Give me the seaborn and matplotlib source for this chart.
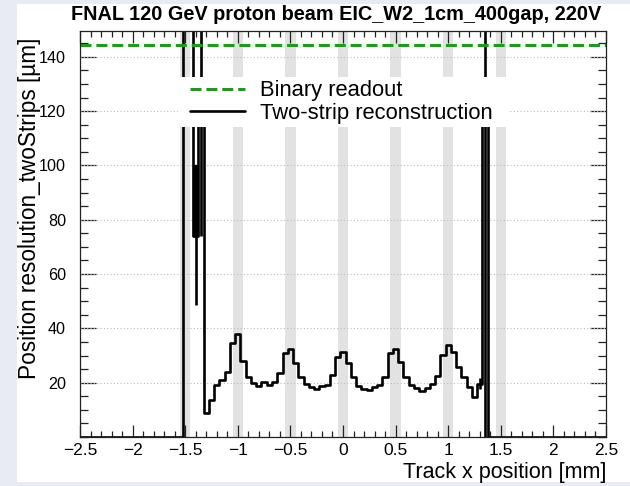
import numpy as np
import pandas as pd
import matplotlib
matplotlib.use("Agg")
import matplotlib.pyplot as plt
import seaborn as sns
from matplotlib.patches import Rectangle
from matplotlib.lines import Line2D
from matplotlib.ticker import MultipleLocator, FixedLocator

# ---------------- data ----------------
title = "FNAL 120 GeV proton beam EIC_W2_1cm_400gap, 220V"
xlabel = "Track x position [mm]"
ylabel = "Position resolution_twoStrips [\u00b5m]"
legend_labels = ["Binary readout", "Two-strip reconstruction"]

bin_width = 0.05
first_center = -1.50
# resolution per 0.05 mm bin, from x = -1.50 to 1.35 (values > 150 are off-scale)
resolution = [200, 200, 74, 120, 8.7, 13.6, 19.2, 21.0, 24.1, 34.7,
              37.9, 28.1, 22.2, 19.8, 18.8, 20.1, 19.2, 20.4, 23.5, 30.8,
              32.3, 27.4, 22.0, 19.5, 18.5, 17.7, 18.8, 19.2, 22.8, 29.3,
              31.4, 27.1, 22.0, 18.8, 17.7, 17.3, 18.3, 19.2, 22.0, 31.0,
              32.3, 27.5, 22.0, 19.2, 17.9, 17.1, 18.2, 19.5, 22.5, 30.2,
              33.9, 31.2, 25.7, 22.0, 18.5, 14.8, 19.5, 120]
# large error bars on a few bins
err_x = [-1.40, -1.35, 1.30, 1.35]
err_lo = [48.6, 74, 17.5, 0]
err_hi = [74, 200, 21.6, 200]
box_x = [-1.40]
box_lo = [74]
box_hi = [100]

binary_x = [-2.5, 2.5]
binary_y = [144.3, 144.3]

strip_centers = [-1.5, -1.0, -0.5, 0.0, 0.5, 1.0, 1.5]
strip_halfwidth = 0.05

x_range = [-2.5, 2.5]
y_range = [0, 149.5]
ytick_values = [20, 40, 60, 80, 100, 120, 140]

# ---------------- style ----------------
sns.set_style("ticks")
plt.rcParams["font.family"] = ["Liberation Sans", "DejaVu Sans"]
for k in ["text.color", "axes.labelcolor", "xtick.color", "ytick.color"]:
    plt.rcParams[k] = "black"

fig = plt.figure(figsize=(6.3, 4.86), dpi=100)
fig.patch.set_facecolor("#e8ebf4")
fig.patches.append(Rectangle((17 / 630, 4 / 486), 613 / 630, 478 / 486,
                             transform=fig.transFigure, facecolor="white",
                             edgecolor="none", zorder=-5))

ax = fig.add_axes([80 / 630, 49 / 486, 526 / 630, 406 / 486])
ax.set_zorder(1)
ax.set_facecolor("white")

centers = np.round(first_center + bin_width * np.arange(len(resolution)), 3)
edges = [round(-2.525 + bin_width * i, 3) for i in range(102)]
df = pd.DataFrame({"x": centers, "res": resolution})

# strip bands
for c in strip_centers:
    ax.axvspan(c - strip_halfwidth, c + strip_halfwidth, color="#e2e2e2",
               lw=0, zorder=0.5)

# grid
for v in ytick_values:
    ax.axhline(v, color="#bdbdbd", lw=0.8, ls=(0, (1, 2)), zorder=0.6)

sns.histplot(data=df, x="x", weights="res", bins=edges, element="step",
             fill=False, color="black", linewidth=1.9, ax=ax, zorder=3)

ax.vlines(err_x, err_lo, err_hi, color="black", lw=1.9, zorder=3)
ax.bar(box_x, np.array(box_hi) - np.array(box_lo), bottom=box_lo,
       width=bin_width, facecolor="black", edgecolor="black", linewidth=1.0,
       zorder=3)

sns.lineplot(x=binary_x, y=binary_y, color="#1f9a1f", lw=2.2, ax=ax, zorder=4)
ax.lines[-1].set_dashes([3.6, 1.6])

ax.set_xlim(*x_range)
ax.set_ylim(*y_range)

ax.xaxis.set_major_locator(MultipleLocator(0.5))
ax.xaxis.set_minor_locator(MultipleLocator(0.1))
ax.yaxis.set_major_locator(FixedLocator(ytick_values))
ax.yaxis.set_minor_locator(MultipleLocator(5))
ax.xaxis.set_major_formatter(plt.FuncFormatter(
    lambda v, p: ("%g" % v).replace("-", "\u2212")))

ax.tick_params(axis="x", which="major", direction="in", length=8.8, width=0.9,
               top=True, bottom=True, labelsize=12.5, pad=4, color="#222222")
ax.tick_params(axis="x", which="minor", direction="in", length=4.4, width=0.9,
               top=True, bottom=True, color="#222222")
ax.tick_params(axis="y", which="major", direction="in", length=11.2, width=0.9,
               left=True, right=True, labelsize=11.6, pad=10, color="#222222")
ax.tick_params(axis="y", which="minor", direction="in", length=5.6, width=0.9,
               left=True, right=True, color="#222222")
for s in ax.spines.values():
    s.set_color("#222222")
    s.set_linewidth(0.9)
    s.set_zorder(5)

ax.set_xlabel(xlabel, fontsize=15.5, loc="right", labelpad=3)
ax.set_ylabel(ylabel, fontsize=16.3, loc="top")
ax.yaxis.set_label_coords((41 - 80) / 526, (437 - 38) / 406)

fig.text(336 / 630, 1 - 14 / 486, title, ha="center", va="center",
         fontsize=14.3, fontweight="bold")

# white legend background box
ax.add_patch(Rectangle(((178 - 80) / 526, (437 - 127) / 406),
                       330 / 526, 50 / 406, transform=ax.transAxes,
                       facecolor="white", edgecolor="none", zorder=9))

handles = [Line2D([], [], color="#1f9a1f", lw=2.2, dashes=[3.6, 1.6]),
           Line2D([], [], color="black", lw=1.9)]
leg = ax.legend(handles, legend_labels, loc="upper left",
                bbox_to_anchor=((187 - 80) / 526, (437 - 77) / 406),
                borderaxespad=0, frameon=False,
                fontsize=15.8, handlelength=2.5, handletextpad=0.68,
                labelspacing=0.06, borderpad=0.15)
leg.set_zorder(10)

fig.savefig("out.png", dpi=100, facecolor=fig.get_facecolor())
